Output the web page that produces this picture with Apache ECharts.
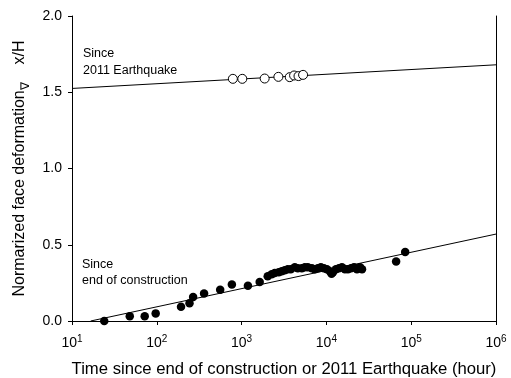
<!DOCTYPE html>
<html>
<head>
<meta charset="utf-8">
<script src="https://cdn.jsdelivr.net/npm/echarts@6/dist/echarts.min.js"></script>
<style>
html,body{margin:0;padding:0;background:#fff;}
#c{width:511px;height:378px;}
</style>
</head>
<body>
<div id="c"></div>
<script>
// Since 2011 Earthquake (open circles): time [h], x/H
const quakeTime = [789, 1019, 1871, 2716, 3696, 4159, 4688, 5309];
const quakeVal  = [1.588, 1.588, 1.590, 1.601, 1.599, 1.610, 1.606, 1.614];

// Since end of construction (filled circles)
const constTime = [24, 48, 72, 97, 193, 243, 268, 361, 559, 768, 1188, 1634,
  2032, 2265, 2460, 2742, 2974, 3228, 3502, 3801, 4240, 4601, 5131, 5566, 6040,
  6736, 7311, 7930, 8603, 9333, 10140, 10990, 11500, 11940, 12950, 14060, 15250,
  16560, 17960, 19500, 21150, 22960, 24900, 26300, 66400, 84900];
const constVal  = [0.0, 0.031, 0.031, 0.05, 0.093, 0.116, 0.157, 0.181, 0.205, 0.24, 0.231, 0.255,
  0.294, 0.307, 0.314, 0.32, 0.327, 0.333, 0.34, 0.34, 0.353, 0.346, 0.346, 0.353, 0.353,
  0.346, 0.34, 0.346, 0.353, 0.346, 0.34, 0.327, 0.31, 0.32, 0.34, 0.346, 0.353,
  0.34, 0.34, 0.346, 0.353, 0.34, 0.353, 0.34, 0.39, 0.453];

// Regression lines (endpoints)
const quakeLineTime = [10, 1000000];
const quakeLineVal  = [1.525, 1.68];
const constLineTime = [16.6, 1000000];
const constLineVal  = [0, 0.57];

// Axis ticks
const yTicks = [0, 0.5, 1.0, 1.5, 2.0];
const xTickExp = [1, 2, 3, 4, 5, 6];

const zip = (a, b) => a.map((v, i) => [v, b[i]]);
const FONT = '"Liberation Sans", Arial, sans-serif';

const chart = echarts.init(document.getElementById('c'), null, {renderer: 'canvas'});
chart.setOption({
  animation: false,
  backgroundColor: '#fff',
  textStyle: {fontFamily: FONT, color: '#000'},
  grid: {left: 72, right: 15, top: 16, bottom: 57, containLabel: false, outerBoundsMode: 'none'},
  xAxis: {
    type: 'log', logBase: 10,
    min: Math.pow(10, xTickExp[0]), max: Math.pow(10, xTickExp[xTickExp.length - 1]),
    axisLine: {lineStyle: {color: '#000', width: 1}},
    axisTick: {show: true, inside: false, length: 4, lineStyle: {color: '#000'}},
    splitLine: {show: false},
    minorTick: {show: false},
    axisLabel: {
      margin: 13,
      color: '#000', fontFamily: FONT, fontSize: 14,
      formatter: v => '10{sup|' + Math.round(Math.log10(v)) + '}',
      rich: {sup: {fontSize: 10, fontFamily: FONT, color: '#000', padding: [0, 0, 8, 0]}}
    },
    name: 'Time since end of construction or 2011 Earthquake (hour)',
    nameLocation: 'middle', nameGap: 40,
    nameTextStyle: {fontFamily: FONT, fontSize: 16.7, color: '#000'}
  },
  yAxis: [{
    type: 'value', min: yTicks[0], max: yTicks[yTicks.length - 1], interval: 0.5,
    axisLine: {show: true, lineStyle: {color: '#000', width: 1}},
    axisTick: {show: true, inside: false, length: 4, lineStyle: {color: '#000'}},
    splitLine: {show: false},
    axisLabel: {
      margin: 10, color: '#000', fontFamily: FONT, fontSize: 14,
      formatter: v => v.toFixed(1)
    },
    name: 'Normarized face deformation{s|∇}    x/H',
    nameLocation: 'middle', nameGap: 37, nameRotate: 90,
    nameTextStyle: {
      fontFamily: FONT, fontSize: 16, color: '#000',
      rich: {s: {fontFamily: FONT, fontSize: 12, color: '#000', padding: [12, 0, 0, 0]}}
    }
  }, {
    type: 'value', position: 'right', min: yTicks[0], max: yTicks[yTicks.length - 1], interval: 0.5,
    axisLine: {show: true, lineStyle: {color: '#000', width: 1}},
    axisTick: {show: false}, axisLabel: {show: false}, splitLine: {show: false}
  }],
  graphic: [
    {type: 'text', left: 83, top: 45, style: {text: 'Since\n2011 Earthquake', font: '12.5px ' + FONT, fill: '#000', lineHeight: 17}},
    {type: 'text', left: 82, top: 257, style: {text: 'Since\nend of construction', font: '12.5px ' + FONT, fill: '#000', lineHeight: 16}}
  ],
  series: [
    {type: 'line', data: zip(quakeLineTime, quakeLineVal), symbol: 'none',
     lineStyle: {color: '#000', width: 1}, z: 1},
    {type: 'line', data: zip(constLineTime, constLineVal), symbol: 'none',
     lineStyle: {color: '#000', width: 1}, z: 1},
    {type: 'scatter', data: zip(constTime, constVal), symbol: 'circle', symbolSize: 8.5,
     itemStyle: {color: '#000', opacity: 1}, z: 3},
    {type: 'scatter', data: zip(quakeTime, quakeVal), symbol: 'circle', symbolSize: 9,
     itemStyle: {color: '#fff', borderColor: '#000', borderWidth: 1, opacity: 1}, z: 3}
  ]
});
</script>
</body>
</html>
